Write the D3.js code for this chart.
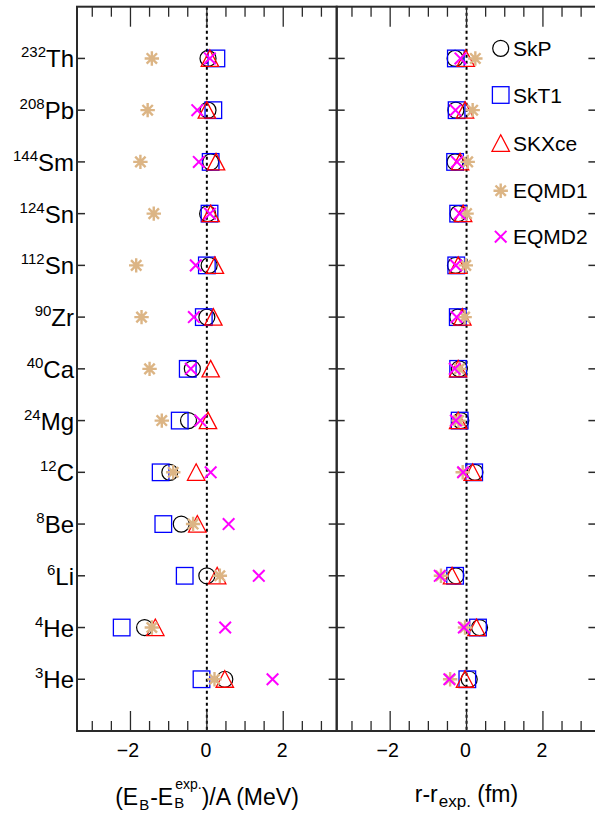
<!DOCTYPE html>
<html>
<head>
<meta charset="utf-8">
<script src="https://cdn.jsdelivr.net/npm/d3@7"></script>
<style>
html,body{margin:0;padding:0;background:#fff;}
svg{display:block;font-family:"Liberation Sans",Arial,Helvetica,sans-serif;}
text{white-space:pre;}
</style>
</head>
<body>
<svg id="chart" width="595" height="814"></svg>
<script>
// ---- data ----
const massNumbers = ["232","208","144","124","112","90","40","24","12","8","6","4","3"];
const elements    = ["Th","Pb","Sm","Sn","Sn","Zr","Ca","Mg","C","Be","Li","He","He"];
const seriesNames = ["SkP","SkT1","SKXce","EQMD1","EQMD2"];

// (E_B - E_B^exp)/A in MeV
const energySkP   = [0.03, 0.03, 0.10, 0.02, 0.06, 0.00, -0.38, -0.48, -0.97, -0.67, 0.00, -1.63, 0.47];
const energySkT1  = [0.25, 0.17, 0.10, 0.07, 0.00, -0.08, -0.50, -0.71, -1.21, -1.14, -0.58, -2.23, -0.14];
const energySKXce = [0.08, 0.00, 0.24, 0.10, 0.21, 0.17, 0.10, 0.03, -0.28, -0.25, 0.27, -1.35, 0.47];
const energyEQMD1 = [-1.44, -1.55, -1.74, -1.39, -1.85, -1.71, -1.50, -1.18, -0.88, -0.36, 0.34, -1.44, 0.20];
const energyEQMD2 = [0.08, -0.25, -0.21, 0.08, -0.29, -0.34, -0.42, -0.17, 0.10, 0.57, 1.36, 0.48, 1.72];

// r - r_exp in fm (no value for 8Be)
const radiusSkP   = [-0.30, -0.28, -0.30, -0.22, -0.29, -0.23, -0.19, -0.15, 0.22, null, -0.28, 0.34, 0.07];
const radiusSkT1  = [-0.28, -0.26, -0.30, -0.22, -0.27, -0.23, -0.22, -0.18, 0.20, null, -0.30, 0.30, 0.02];
const radiusSKXce = [-0.02, -0.04, -0.17, -0.09, -0.22, -0.11, -0.22, -0.22, 0.16, null, -0.38, 0.26, -0.04];
const radiusEQMD1 = [0.23, 0.16, 0.03, 0.00, -0.02, -0.05, -0.19, -0.21, -0.10, null, -0.67, -0.04, -0.43];
const radiusEQMD2 = [-0.16, -0.29, -0.25, -0.18, -0.28, -0.26, -0.31, -0.28, -0.09, null, -0.70, -0.07, -0.45];

const xTickValues = [-2, 0, 2];

// ---- layout ----
const svg = d3.select("#chart");
const yTop = 6.7, yBottom = 731;
const panelW = 259.7;
const panels = [
  {x0: 77, values: [energySkP, energySkT1, energySKXce, energyEQMD1, energyEQMD2]},
  {x0: 77 + panelW, values: [radiusSkP, radiusSkT1, radiusSKXce, radiusEQMD1, radiusEQMD2]}
];
const y = d3.scaleLinear().domain([0, massNumbers.length + 1]).range([yTop, yBottom]);

const styles = [
  {type:"circle", color:"#000000"},
  {type:"square", color:"#0000ff"},
  {type:"triangle", color:"#ff0000"},
  {type:"star", color:"#dcb585"},
  {type:"cross", color:"#ff00ff"}
];

function drawMarker(g, type, color, cx, cy) {
  if (type === "circle") {
    g.append("circle").attr("cx", cx).attr("cy", cy).attr("r", 8)
      .attr("fill", "none").attr("stroke", color).attr("stroke-width", 1.2);
  } else if (type === "square") {
    g.append("rect").attr("x", cx - 8.3).attr("y", cy - 8.3).attr("width", 16.6).attr("height", 16.6)
      .attr("fill", "none").attr("stroke", color).attr("stroke-width", 1.3);
  } else if (type === "triangle") {
    g.append("path").attr("d", `M${cx},${cy-8.5}L${cx+8.7},${cy+8}L${cx-8.7},${cy+8}Z`)
      .attr("fill", "none").attr("stroke", color).attr("stroke-width", 1.3);
  } else if (type === "star") {
    const r = 7.2, d = r * 0.72;
    const p = `M${cx-r},${cy}L${cx+r},${cy}M${cx},${cy-r}L${cx},${cy+r}` +
              `M${cx-d},${cy-d}L${cx+d},${cy+d}M${cx-d},${cy+d}L${cx+d},${cy-d}`;
    g.append("path").attr("d", p).attr("fill", "none").attr("stroke", color).attr("stroke-width", 2.4);
  } else if (type === "cross") {
    const r = 5.8;
    const p = `M${cx-r},${cy-r}L${cx+r},${cy+r}M${cx-r},${cy+r}L${cx+r},${cy-r}`;
    g.append("path").attr("d", p).attr("fill", "none").attr("stroke", color).attr("stroke-width", 2);
  }
}

const frameColor = "#2a2a2a";
const minorTicks = d3.range(-3, 3.01, 0.5).filter(v => !xTickValues.includes(v));

panels.forEach((pn, pi) => {
  const x = d3.scaleLinear().domain([-3.4, 3.4]).range([pn.x0, pn.x0 + panelW]);
  const g = svg.append("g");

  // zero dotted line
  g.append("line").attr("x1", x(0)).attr("x2", x(0)).attr("y1", yTop).attr("y2", yBottom)
    .attr("stroke", "#000").attr("stroke-width", 2).attr("stroke-dasharray", "3,3");

  // x ticks (top and bottom, inward)
  minorTicks.forEach(v => {
    g.append("line").attr("x1", x(v)).attr("x2", x(v)).attr("y1", yBottom).attr("y2", yBottom - 10)
      .attr("stroke", frameColor).attr("stroke-width", 1.3);
    g.append("line").attr("x1", x(v)).attr("x2", x(v)).attr("y1", yTop).attr("y2", yTop + 10)
      .attr("stroke", frameColor).attr("stroke-width", 1.3);
  });
  xTickValues.forEach(v => {
    g.append("line").attr("x1", x(v)).attr("x2", x(v)).attr("y1", yBottom).attr("y2", yBottom - 20)
      .attr("stroke", frameColor).attr("stroke-width", 1.3);
    g.append("line").attr("x1", x(v)).attr("x2", x(v)).attr("y1", yTop).attr("y2", yTop + 20)
      .attr("stroke", frameColor).attr("stroke-width", 1.3);
    g.append("text").attr("x", x(v) - (v < 0 ? 2.5 : 1)).attr("y", 757)
      .attr("text-anchor", "middle").attr("font-size", 19.5)
      .text(v < 0 ? "\u2212" + Math.abs(v) : String(v));
  });

  // y ticks (both sides, inward)
  massNumbers.forEach((m, i) => {
    const yy = y(i + 1);
    g.append("line").attr("x1", pn.x0).attr("x2", pn.x0 + 8).attr("y1", yy).attr("y2", yy)
      .attr("stroke", frameColor).attr("stroke-width", 1.5);
    g.append("line").attr("x1", pn.x0 + panelW - 8).attr("x2", pn.x0 + panelW).attr("y1", yy).attr("y2", yy)
      .attr("stroke", frameColor).attr("stroke-width", 1.5);
  });

  // frame
  g.append("rect").attr("x", pn.x0).attr("y", yTop).attr("width", panelW).attr("height", yBottom - yTop)
    .attr("fill", "none").attr("stroke", frameColor).attr("stroke-width", 2);

  // markers
  pn.values.forEach((vals, si) => {
    const mg = g.append("g");
    vals.forEach((v, i) => {
      if (v === null) return;
      drawMarker(mg, styles[si].type, styles[si].color, x(v), y(i + 1));
    });
  });
});

// y labels
massNumbers.forEach((m, i) => {
  const t = svg.append("text").attr("x", 74).attr("y", y(i + 1) + 9).attr("text-anchor", "end");
  t.append("tspan").attr("font-size", 15).attr("dy", -10).text(m);
  t.append("tspan").attr("font-size", 24).attr("dy", 10).text(elements[i]);
});

// legend
const legendY = [48.3, 95, 143.3, 190.7, 236.7];
seriesNames.forEach((name, i) => {
  drawMarker(svg, styles[i].type, styles[i].color, 500.7, legendY[i]);
  svg.append("text").attr("x", 513).attr("y", legendY[i] + 7.6).attr("font-size", 21).text(name);
});

// axis titles built from measured pieces
function buildTitle(pieces, cx, baseline) {
  const g = svg.append("g");
  let xPos = 0;
  pieces.forEach(p => {
    if (p.stack) {
      let w = 0;
      p.stack.forEach(s => {
        const t = g.append("text").attr("x", xPos + (s.dx || 0)).attr("y", baseline + s.dy)
          .attr("font-size", s.size).text(s.text);
        w = Math.max(w, t.node().getComputedTextLength() + (s.dx || 0));
      });
      xPos += w;
    } else {
      const t = g.append("text").attr("x", xPos + (p.dx || 0)).attr("y", baseline + (p.dy || 0))
        .attr("font-size", p.size).text(p.text);
      xPos += t.node().getComputedTextLength() + (p.dx || 0);
    }
  });
  g.attr("transform", `translate(${cx - xPos / 2},0)`);
}

buildTitle([
  {text: "(E", size: 23},
  {text: "B", size: 15, dy: 4.5, dx: 1},
  {text: "-E", size: 23, dx: 1},
  {stack: [{text: "B", size: 15, dy: 3, dx: 1}, {text: "exp.", size: 14, dy: -16, dx: 2}]},
  {text: ")/A (MeV)", size: 23}
], 207, 805);

buildTitle([
  {text: "r-r", size: 23},
  {text: "exp.", size: 17, dy: 5, dx: 1},
  {text: " (fm)", size: 23}
], 466.5, 801.5);
</script>
</body>
</html>
